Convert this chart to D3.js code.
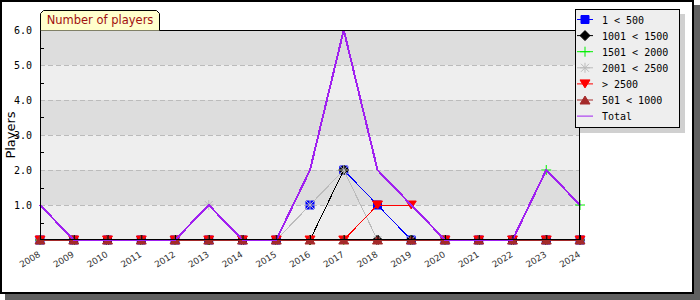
<!DOCTYPE html>
<html>
<head>
<meta charset="utf-8">
<script src="https://cdn.jsdelivr.net/npm/d3@7"></script>
<style>
  body { margin: 0; background: #fff; }
  svg { display: block; }
</style>
</head>
<body>
<svg id="chart"></svg>
<script>
"use strict";

const years = ["2008", "2009", "2010", "2011", "2012", "2013", "2014", "2015", "2016",
    "2017", "2018", "2019", "2020", "2021", "2022", "2023", "2024"];
const seriesNames = ["1 < 500", "1001 < 1500", "1501 < 2000", "2001 < 2500", "> 2500", "501 < 1000", "Total"];

const s1to500 =     [0, 0, 0, 0, 0, 0, 0, 0, 1, 2, 1, 0, 0, 0, 0, 0, 0];
const s1001to1500 = [0, 0, 0, 0, 0, 0, 0, 0, 0, 2, 0, 0, 0, 0, 0, 0, 0];
const s1501to2000 = [0, 0, 0, 0, 0, 0, 0, 0, 0, 0, 0, 0, 0, 0, 0, 2, 1];
const s2001to2500 = [0, 0, 0, 0, 0, 1, 0, 0, 1, 2, 0, 0, 0, 0, 0, 0, 0];
const sOver2500 =   [0, 0, 0, 0, 0, 0, 0, 0, 0, 0, 1, 1, 0, 0, 0, 0, 0];
const s501to1000 =  [0, 0, 0, 0, 0, 0, 0, 0, 0, 0, 0, 0, 0, 0, 0, 0, 0];
const sTotal =      [1, 0, 0, 0, 0, 1, 0, 0, 2, 6, 2, 1, 0, 0, 0, 2, 1];

const yTicks = [1, 2, 3, 4, 5, 6];

const width = 700, height = 300;
const plot = {left: 40, right: 580, top: 30, bottom: 240};

const svg = d3.select("#chart").attr("width", width).attr("height", height);

// frame + shadow
svg.append("rect").attr("x", 5).attr("y", 5).attr("width", 695).attr("height", 295).attr("fill", "#606060");
svg.append("rect").attr("x", 1).attr("y", 1).attr("width", 692).attr("height", 292)
    .attr("fill", "#fff").attr("stroke", "#000").attr("stroke-width", 2);

const x = d3.scalePoint().domain(years).range([plot.left, plot.right]);
const y = d3.scaleLinear().domain([0, 6]).range([plot.bottom, plot.top]);

// bands
svg.append("g").selectAll("rect")
    .data(d3.range(0, 6))
    .join("rect")
    .attr("x", plot.left)
    .attr("width", plot.right - plot.left)
    .attr("y", d => y(d + 1))
    .attr("height", d => y(d) - y(d + 1))
    .attr("fill", d => d % 2 === 0 ? "#eeeeee" : "#dddddd");

// grid
svg.append("g").selectAll("line")
    .data(yTicks.slice(0, -1))
    .join("line")
    .attr("x1", plot.left).attr("x2", plot.right)
    .attr("y1", d => Math.round(y(d)) + 0.5).attr("y2", d => Math.round(y(d)) + 0.5)
    .attr("stroke", "#bbbbbb")
    .attr("stroke-dasharray", "5,3");

// marker shapes
function markerPath(kind, s) {
    switch (kind) {
        case "square": return `M${-s},${-s}H${s}V${s}H${-s}Z`;
        case "diamond": return `M0,${-s - 1}L${s + 1},0L0,${s + 1}L${-s - 1},0Z`;
        case "cross": return `M${-s - 1},0H${s + 1}M0,${-s - 1}V${s + 1}`;
        case "star": return `M${-s - 1},0H${s + 1}M0,${-s - 1}V${s + 1}M${-s},${-s}L${s},${s}M${-s},${s}L${s},${-s}`;
        case "tdown": return `M${-s - 1},${-s}H${s + 1}L0,${s}Z`;
        case "tup": return `M${-s - 1},${s}H${s + 1}L0,${-s}Z`;
    }
    return "";
}

const seriesData = [s1to500, s1001to1500, s1501to2000, s2001to2500, sOver2500, s501to1000, sTotal];
const styles = [
    {color: "#0000ff", mark: "square", w: 1},
    {color: "#000000", mark: "diamond", w: 1},
    {color: "#00ee00", mark: "cross", w: 1},
    {color: "#bbbbbb", mark: "star", w: 1},
    {color: "#ff0000", mark: "tdown", w: 1},
    {color: "#a52a2a", mark: "tup", w: 1},
    {color: "#a020f0", mark: null, w: 2}
];

const line = d3.line()
    .x((d, i) => x(years[i]))
    .y(d => y(d));

const plotG = svg.append("g");

seriesData.forEach((vals, si) => {
    let st = styles[si];
    plotG.append("path")
        .attr("d", line(vals))
        .attr("fill", "none")
        .attr("stroke", st.color)
        .attr("stroke-width", st.w)
        .attr("shape-rendering", "crispEdges");
    if (st.mark) {
        let filled = st.mark !== "cross" && st.mark !== "star";
        plotG.append("g").selectAll("path")
            .data(vals)
            .join("path")
            .attr("transform", (d, i) => `translate(${x(years[i])},${y(d)})`)
            .attr("d", markerPath(st.mark, 4))
            .attr("fill", filled ? st.color : "none")
            .attr("stroke", st.color)
            .attr("stroke-width", 1);
    }
});

// plot border
svg.append("rect")
    .attr("x", plot.left + 0.5).attr("y", plot.top + 0.5)
    .attr("width", plot.right - plot.left - 1).attr("height", plot.bottom - plot.top - 1)
    .attr("fill", "none").attr("stroke", "#000");

// y axis
const yAxis = d3.axisLeft(y)
    .tickValues(yTicks)
    .tickFormat(d3.format(".1f"))
    .tickSize(0)
    .tickPadding(8);
const yg = svg.append("g").attr("transform", `translate(${plot.left},0)`).call(yAxis);
yg.select(".domain").remove();
yg.selectAll("text")
    .attr("font-family", "DejaVu Sans Mono")
    .attr("font-size", 10)
    .attr("fill", "#000");

svg.append("g").selectAll("line")
    .data(d3.range(0.5, 6, 1))
    .join("line")
    .attr("x1", plot.left).attr("x2", plot.left + 4)
    .attr("y1", d => Math.round(y(d)) + 0.5).attr("y2", d => Math.round(y(d)) + 0.5)
    .attr("stroke", "#000");

// x axis
const xAxis = d3.axisBottom(x).tickSize(-5).tickFormat("");
const xg = svg.append("g").attr("transform", `translate(0,${plot.bottom})`).call(xAxis);
xg.select(".domain").remove();
xg.selectAll(".tick line").attr("stroke", "#000");

svg.append("g").selectAll("text")
    .data(years)
    .join("text")
    .attr("transform", d => `translate(${x(d) + 1},${plot.bottom + 16}) rotate(-32)`)
    .attr("text-anchor", "end")
    .attr("font-family", "DejaVu Sans")
    .attr("font-size", 8.8)
    .attr("fill", "#333")
    .text(d => d);

svg.append("text")
    .attr("transform", `translate(15,135) rotate(-90)`)
    .attr("text-anchor", "middle")
    .attr("font-family", "DejaVu Sans")
    .attr("font-size", 13)
    .attr("fill", "#000")
    .text("Players");

// title tab
svg.append("path")
    .attr("d", "M40.5,30.5V13.5L43.5,10.5H156.5L159.5,13.5V30.5")
    .attr("fill", "#ffffcc")
    .attr("stroke", "#000");
svg.append("text")
    .attr("x", 100).attr("y", 24)
    .attr("text-anchor", "middle")
    .attr("font-family", "DejaVu Sans")
    .attr("font-size", 11.5)
    .attr("fill", "#a01010")
    .text("Number of players");

// legend
const lg = svg.append("g");
lg.append("rect").attr("x", 580).attr("y", 14).attr("width", 105).attr("height", 119).attr("fill", "#d0d0d0");
lg.append("rect").attr("x", 575.5).attr("y", 9.5).attr("width", 104).attr("height", 118)
    .attr("fill", "#eeeeee").attr("stroke", "#000");

const rows = lg.selectAll("g.row")
    .data(seriesNames)
    .join("g")
    .attr("class", "row")
    .attr("transform", (d, i) => `translate(0,${19.5 + i * 16.1})`);

rows.append("line")
    .attr("x1", 577).attr("x2", 593)
    .attr("stroke", (d, i) => styles[i].color)
    .attr("stroke-width", 1);
rows.filter((d, i) => styles[i].mark)
    .append("path")
    .attr("transform", "translate(585,0)")
    .attr("d", d => markerPath(styles[seriesNames.indexOf(d)].mark, 4))
    .attr("fill", d => {
        let st = styles[seriesNames.indexOf(d)];
        return (st.mark === "cross" || st.mark === "star") ? "none" : st.color;
    })
    .attr("stroke", d => styles[seriesNames.indexOf(d)].color);
rows.append("text")
    .attr("x", 602).attr("y", 4)
    .attr("font-family", "DejaVu Sans Mono")
    .attr("font-size", 10)
    .attr("fill", "#000")
    .text(d => d);
</script>
</body>
</html>
